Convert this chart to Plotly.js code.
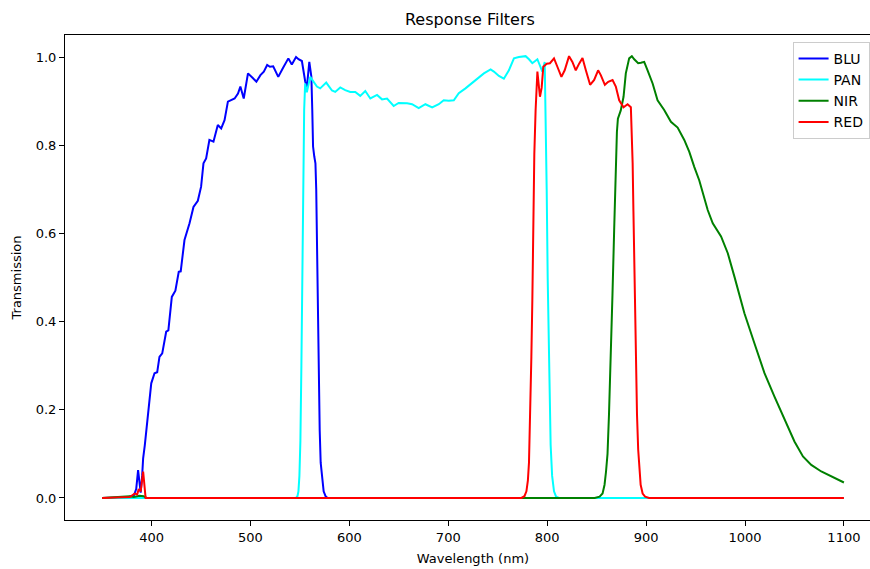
<!DOCTYPE html>
<html>
<head>
<meta charset="utf-8">
<script src="https://cdn.plot.ly/plotly-3.0.1.min.js"></script>
<style>
html, body { margin: 0; padding: 0; overflow: hidden; background: #fff; width: 870px; height: 569px; }
#chart { width: 890px; height: 569px; }
</style>
</head>
<body>
<div id="chart"></div>
<script>
// Wavelengths (nm) and transmission values
const bluX = [350, 375, 382, 384.5, 386.4, 387.8, 389, 390.5, 391.5, 393.2, 395, 397.3, 399.7, 403, 405.7, 408, 410.8, 414.8, 417, 420.5, 424.1, 427.5, 429.5, 433.3, 438.4, 442.4, 446.8, 450.1, 452.5, 455.2, 458.5, 462.6, 467, 470.4, 473.8, 477.2, 484, 487.4, 489.8, 493.2, 497.5, 502.6, 506, 510.1, 513.5, 516.9, 519.7, 523, 528.1, 532.6, 535, 538.3, 541.8, 546.1, 548.6, 552, 555.4, 557.1, 559.5, 561.6, 562.5, 563.3, 564.5, 565.7, 566.5, 567.4, 568.5, 570, 571, 572.5, 574, 575.9, 578, 1100];
const bluY = [0, 0.001, 0.005, 0.02, 0.063, 0.04, 0.012, 0.05, 0.09, 0.12, 0.16, 0.22, 0.26, 0.283, 0.285, 0.32, 0.328, 0.377, 0.38, 0.456, 0.47, 0.513, 0.514, 0.585, 0.623, 0.66, 0.674, 0.706, 0.759, 0.770, 0.812, 0.808, 0.846, 0.838, 0.857, 0.899, 0.906, 0.917, 0.933, 0.906, 0.963, 0.952, 0.944, 0.959, 0.967, 0.982, 0.978, 0.979, 0.955, 0.974, 0.985, 0.997, 0.983, 1.0, 0.995, 0.991, 0.944, 0.933, 0.989, 0.955, 0.88, 0.797, 0.775, 0.759, 0.70, 0.53, 0.33, 0.154, 0.08, 0.04, 0.015, 0.004, 0, 0];

const panX = [350, 546, 547.5, 548.5, 549.5, 550.5, 551.5, 552.5, 553.3, 554.3, 555.3, 557, 560.4, 563.7, 567.2, 570.5, 576.6, 582.4, 585.7, 590.8, 595.8, 600.9, 606, 611, 616.1, 621.2, 628, 633, 638.1, 644.8, 649.8, 658.4, 663.4, 670.1, 676.9, 683.7, 690.4, 695.4, 700.5, 705.6, 710.6, 717.4, 724.2, 729.3, 736, 742.8, 746.1, 751.2, 756.2, 761.3, 766.4, 771.4, 778.2, 781.6, 785, 790.1, 793.4, 795.1, 797.5, 798.7, 799.5, 800.5, 801.5, 802.5, 803.5, 805, 806.9, 809, 812, 1100];
const panY = [0, 0, 0.004, 0.015, 0.05, 0.13, 0.3, 0.5, 0.7, 0.88, 0.94, 0.92, 0.955, 0.944, 0.933, 0.929, 0.942, 0.924, 0.921, 0.931, 0.925, 0.921, 0.921, 0.912, 0.923, 0.906, 0.914, 0.904, 0.906, 0.889, 0.896, 0.895, 0.893, 0.884, 0.893, 0.886, 0.893, 0.902, 0.901, 0.902, 0.918, 0.929, 0.942, 0.951, 0.963, 0.972, 0.967, 0.957, 0.951, 0.97, 0.997, 1.0, 1.002, 0.995, 0.986, 0.995, 0.978, 0.967, 0.989, 0.85, 0.7, 0.5, 0.33, 0.2, 0.12, 0.05, 0.015, 0.003, 0, 0];

const nirX = [350, 378, 382, 388, 392, 395, 848, 853, 856, 858, 859.5, 861, 862.5, 864.3, 866, 867.7, 869.4, 870.5, 871.5, 874.4, 877.2, 879.5, 882.9, 885.6, 888, 892, 894.8, 898.1, 901.5, 906.6, 911.6, 918.3, 925.1, 931.9, 938.6, 943.7, 948.7, 953.8, 962.3, 967.4, 975.8, 982.6, 989.3, 999.4, 1009.5, 1019.7, 1029.8, 1039.9, 1050, 1058.6, 1067, 1077.1, 1090.6, 1100];
const nirY = [0, 0.004, 0.002, 0.005, 0.004, 0, 0, 0.003, 0.01, 0.03, 0.06, 0.1, 0.19, 0.305, 0.46, 0.606, 0.76, 0.83, 0.86, 0.879, 0.91, 0.963, 0.997, 1.002, 0.995, 0.986, 0.987, 0.989, 0.97, 0.94, 0.902, 0.88, 0.853, 0.84, 0.812, 0.785, 0.751, 0.72, 0.653, 0.623, 0.593, 0.555, 0.502, 0.419, 0.351, 0.283, 0.23, 0.177, 0.128, 0.094, 0.075, 0.06, 0.045, 0.035];

const redX = [350, 378, 383, 385.5, 387, 389, 391.5, 393, 394, 774, 777, 779, 780.5, 781.6, 782.8, 784, 785, 786, 787, 788.3, 789.3, 790.1, 792.7, 794.4, 796.1, 799.5, 802.8, 806.9, 810.3, 814.4, 817.7, 822.1, 825.5, 828.9, 832.3, 835.7, 839.1, 843.4, 847.5, 851.5, 854.2, 858.3, 861.7, 866.1, 869.4, 872.8, 877.2, 881.3, 884.6, 885.5, 886.4, 887.2, 888, 888.8, 889.7, 890.8, 892, 893.1, 894.5, 896.5, 899, 903, 1100];
const redY = [0, 0.002, 0.01, 0.008, 0.02, 0.015, 0.06, 0.02, 0, 0, 0.004, 0.015, 0.04, 0.08, 0.18, 0.32, 0.45, 0.62, 0.78, 0.88, 0.95, 0.967, 0.91, 0.93, 0.978, 0.985, 0.986, 0.997, 0.978, 0.955, 0.97, 1.002, 0.989, 0.97, 0.985, 0.998, 0.97, 0.937, 0.948, 0.97, 0.959, 0.937, 0.944, 0.948, 0.933, 0.902, 0.886, 0.893, 0.886, 0.84, 0.76, 0.65, 0.54, 0.42, 0.306, 0.19, 0.11, 0.065, 0.03, 0.01, 0.003, 0, 0];

const seriesNames = ["BLU", "PAN", "NIR", "RED"];
const seriesColors = ["#0000ff", "#00ffff", "#008000", "#ff0000"];
const xTicks = [400, 500, 600, 700, 800, 900, 1000, 1100];
const yTicks = [0.0, 0.2, 0.4, 0.6, 0.8, 1.0];

const xs = [bluX, panX, nirX, redX];
const ys = [bluY, panY, nirY, redY];

const traces = seriesNames.map((n, i) => ({
  type: "scatter", mode: "lines", name: n,
  x: xs[i], y: ys[i],
  line: { color: seriesColors[i], width: 2 }
}));

const font = "DejaVu Sans, sans-serif";
const layout = {
  width: 890, height: 569,
  margin: { l: 65, r: 9, t: 35, b: 49 },
  paper_bgcolor: "#fff", plot_bgcolor: "#fff",
  font: { family: font, size: 13, color: "#000" },
  title: { text: "Response Filters", x: 0.528, xanchor: "center", xref: "container", y: 1 - 19/569, yanchor: "middle", yref: "container", font: { family: font, size: 16, color: "#000" } },
  xaxis: {
    range: [312.5, 1137.5], tickvals: xTicks, ticktext: xTicks.map(String),
    showgrid: false, zeroline: false, showline: true, linecolor: "#000", linewidth: 1, mirror: true,
    ticks: "outside", ticklen: 5, tickwidth: 1, tickcolor: "#000",
    tickfont: { family: font, size: 13, color: "#000" },
    title: { text: "Wavelength (nm)", font: { family: font, size: 13, color: "#000" }, standoff: 10 },
    automargin: false
  },
  yaxis: {
    range: [-0.05, 1.05], tickvals: yTicks, ticktext: yTicks.map(v => v.toFixed(1)),
    showgrid: false, zeroline: false, showline: true, linecolor: "#000", linewidth: 1, mirror: true,
    ticks: "outside", ticklen: 5, tickwidth: 1, tickcolor: "#000",
    tickfont: { family: font, size: 13, color: "#000" },
    title: { text: "Transmission", font: { family: font, size: 13, color: "#000" }, standoff: 11 },
    automargin: false
  },
  showlegend: true,
  legend: {
    x: 0.986, xanchor: "right", y: 0.986, yanchor: "top",
    bgcolor: "rgba(255,255,255,0.8)", bordercolor: "#cccccc", borderwidth: 1,
    font: { family: font, size: 14, color: "#000" }
  }
};

Plotly.newPlot("chart", traces, layout, { staticPlot: true, displayModeBar: false });
</script>
</body>
</html>
